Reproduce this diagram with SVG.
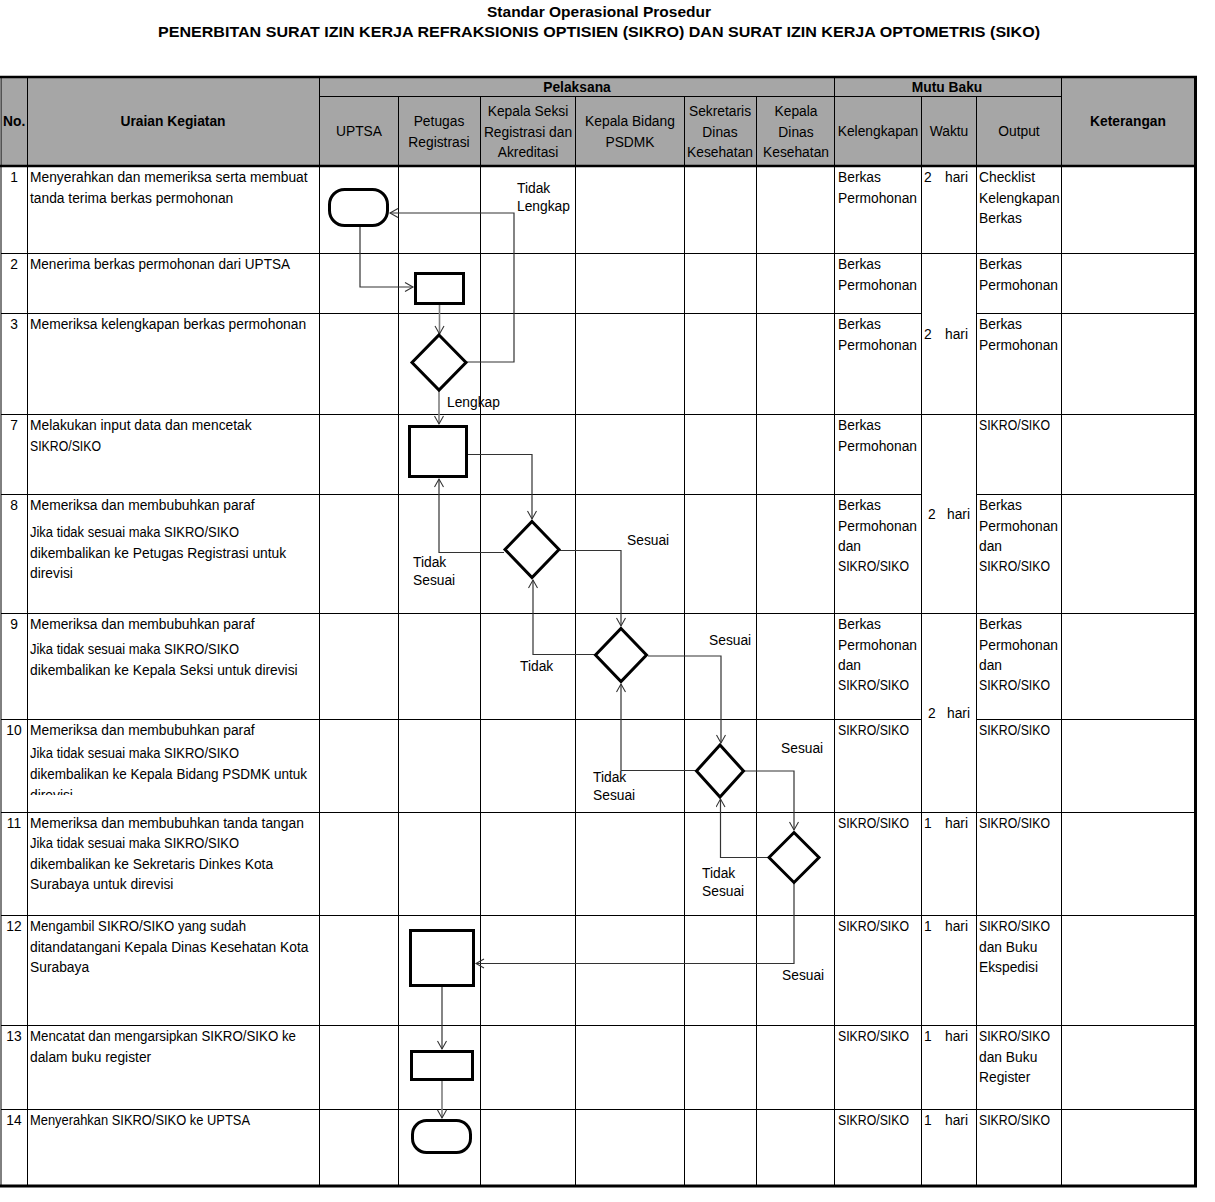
<svg xmlns="http://www.w3.org/2000/svg" width="1215" height="1202" viewBox="0 0 1215 1202">
<style>
.t{font-family:"Liberation Sans",Arial,sans-serif;font-size:13.8px;fill:#000}
.b{font-weight:bold}
.m{text-anchor:middle}
.h{font-family:"Liberation Sans",Arial,sans-serif;font-weight:bold;font-size:15.5px;text-anchor:middle;fill:#000}
.gl{stroke:#000;stroke-width:1;fill:none}
.gt{stroke:#000;stroke-width:2.5;fill:none}
.s{fill:#fff;stroke:#000;stroke-width:3}
.c{fill:none;stroke:#333;stroke-width:1.2;marker-end:url(#ar)}
.cg{fill:none;stroke:#7f7f7f;stroke-width:1.6;marker-end:url(#ar)}
</style>
<defs>
<marker id="ar" markerUnits="userSpaceOnUse" markerWidth="12" markerHeight="12" refX="9" refY="5" orient="auto">
<path d="M1,0.5 L9,5 L1,9.5" fill="none" stroke="#333" stroke-width="1.1"/>
</marker>
<clipPath id="r10"><rect x="28" y="720" width="290" height="75"/></clipPath>
</defs>
<rect width="1215" height="1202" fill="#fff"/>
<text class="h" x="599" y="17">Standar Operasional Prosedur</text>
<text class="h" x="599" y="37" textLength="882" lengthAdjust="spacingAndGlyphs">PENERBITAN SURAT IZIN KERJA REFRAKSIONIS OPTISIEN (SIKRO) DAN SURAT IZIN KERJA OPTOMETRIS (SIKO)</text>
<g id="table">
<rect x="1" y="77" width="1195" height="89" fill="#a6a6a6"/>
<g class="gl">
<path d="M319,96.5 H1061"/>
<path d="M27.5,77 V1186 M319.5,77 V1186 M834.5,77 V1186 M1061.5,77 V1186"/>
<path d="M398.5,96 V1186 M480.5,96 V1186 M575.5,96 V1186 M684.5,96 V1186 M756.5,96 V1186 M921.5,96 V1186 M976.5,96 V1186"/>
<path d="M1,253.5 H1196 M1,313.5 H921 M976,313.5 H1196 M1,414.5 H1196 M1,494.5 H921 M976,494.5 H1196 M1,613.5 H1196 M1,719.5 H921 M976,719.5 H1196 M1,812.5 H1196 M1,915.5 H1196 M1,1025.5 H1196 M1,1109.5 H1196"/>
<path d="M1,77 V1186"/>
</g>
<g class="gt">
<path d="M0,77 H1197 M0,166 H1197"/>
<path d="M0,1186 H1197" stroke-width="3"/>
<path d="M1195.5,76 V1187" stroke-width="3"/>
</g>
<text class="t b" x="3" y="126">No.</text>
<text class="t b m" x="173" y="126">Uraian Kegiatan</text>
<text class="t b m" x="577" y="92">Pelaksana</text>
<text class="t b m" x="947" y="92">Mutu Baku</text>
<text class="t b m" x="1128" y="126">Keterangan</text>
<text class="t m" x="359" y="136">UPTSA</text>
<text class="t m" x="439" y="126">Petugas</text>
<text class="t m" x="439" y="147">Registrasi</text>
<text class="t m" x="528" y="116">Kepala Seksi</text>
<text class="t m" x="528" y="137">Registrasi dan</text>
<text class="t m" x="528" y="157">Akreditasi</text>
<text class="t m" x="630" y="126">Kepala Bidang</text>
<text class="t m" x="630" y="147">PSDMK</text>
<text class="t m" x="720" y="116">Sekretaris</text>
<text class="t m" x="720" y="137">Dinas</text>
<text class="t m" x="720" y="157">Kesehatan</text>
<text class="t m" x="796" y="116">Kepala</text>
<text class="t m" x="796" y="137">Dinas</text>
<text class="t m" x="796" y="157">Kesehatan</text>
<text class="t m" x="878" y="136">Kelengkapan</text>
<text class="t m" x="949" y="136">Waktu</text>
<text class="t m" x="1019" y="136">Output</text>
</g>
<g id="rows">
<text class="t m" x="14" y="182">1</text>
<text class="t" x="30" y="182">Menyerahkan dan memeriksa serta membuat</text>
<text class="t" x="30" y="203">tanda terima berkas permohonan</text>
<text class="t m" x="14" y="269">2</text>
<text class="t" x="30" y="269" textLength="260" lengthAdjust="spacingAndGlyphs">Menerima berkas permohonan dari UPTSA</text>
<text class="t m" x="14" y="329">3</text>
<text class="t" x="30" y="329">Memeriksa kelengkapan berkas permohonan</text>
<text class="t m" x="14" y="430">7</text>
<text class="t" x="30" y="430">Melakukan input data dan mencetak</text>
<text class="t" x="30" y="451" textLength="71" lengthAdjust="spacingAndGlyphs">SIKRO/SIKO</text>
<text class="t m" x="14" y="510">8</text>
<text class="t" x="30" y="510">Memeriksa dan membubuhkan paraf</text>
<text class="t" x="30" y="537" textLength="209" lengthAdjust="spacingAndGlyphs">Jika tidak sesuai maka SIKRO/SIKO</text>
<text class="t" x="30" y="558">dikembalikan ke Petugas Registrasi untuk</text>
<text class="t" x="30" y="578">direvisi</text>
<text class="t m" x="14" y="629">9</text>
<text class="t" x="30" y="629">Memeriksa dan membubuhkan paraf</text>
<text class="t" x="30" y="654" textLength="209" lengthAdjust="spacingAndGlyphs">Jika tidak sesuai maka SIKRO/SIKO</text>
<text class="t" x="30" y="675">dikembalikan ke Kepala Seksi untuk direvisi</text>
<text class="t m" x="14" y="735">10</text>
<text class="t" x="30" y="735">Memeriksa dan membubuhkan paraf</text>
<text class="t" x="30" y="758" textLength="209" lengthAdjust="spacingAndGlyphs">Jika tidak sesuai maka SIKRO/SIKO</text>
<text class="t" x="30" y="779" textLength="277" lengthAdjust="spacingAndGlyphs">dikembalikan ke Kepala Bidang PSDMK untuk</text>
<text class="t" x="30" y="800" clip-path="url(#r10)">direvisi</text>
<text class="t m" x="14" y="828">11</text>
<text class="t" x="30" y="828">Memeriksa dan membubuhkan tanda tangan</text>
<text class="t" x="30" y="848" textLength="209" lengthAdjust="spacingAndGlyphs">Jika tidak sesuai maka SIKRO/SIKO</text>
<text class="t" x="30" y="869">dikembalikan ke Sekretaris Dinkes Kota</text>
<text class="t" x="30" y="889">Surabaya untuk direvisi</text>
<text class="t m" x="14" y="931">12</text>
<text class="t" x="30" y="931" textLength="216" lengthAdjust="spacingAndGlyphs">Mengambil SIKRO/SIKO yang sudah</text>
<text class="t" x="30" y="952">ditandatangani Kepala Dinas Kesehatan Kota</text>
<text class="t" x="30" y="972">Surabaya</text>
<text class="t m" x="14" y="1041">13</text>
<text class="t" x="30" y="1041" textLength="266" lengthAdjust="spacingAndGlyphs">Mencatat dan mengarsipkan SIKRO/SIKO ke</text>
<text class="t" x="30" y="1062">dalam buku register</text>
<text class="t m" x="14" y="1125">14</text>
<text class="t" x="30" y="1125" textLength="220" lengthAdjust="spacingAndGlyphs">Menyerahkan SIKRO/SIKO ke UPTSA</text>
</g>
<g id="kelengkapan">
<text class="t" x="838" y="182">Berkas</text><text class="t" x="838" y="203">Permohonan</text>
<text class="t" x="838" y="269">Berkas</text><text class="t" x="838" y="290">Permohonan</text>
<text class="t" x="838" y="329">Berkas</text><text class="t" x="838" y="350">Permohonan</text>
<text class="t" x="838" y="430">Berkas</text><text class="t" x="838" y="451">Permohonan</text>
<text class="t" x="838" y="510">Berkas</text><text class="t" x="838" y="531">Permohonan</text><text class="t" x="838" y="551">dan</text><text class="t" x="838" y="571" textLength="71" lengthAdjust="spacingAndGlyphs">SIKRO/SIKO</text>
<text class="t" x="838" y="629">Berkas</text><text class="t" x="838" y="650">Permohonan</text><text class="t" x="838" y="670">dan</text><text class="t" x="838" y="690" textLength="71" lengthAdjust="spacingAndGlyphs">SIKRO/SIKO</text>
<text class="t" x="838" y="735" textLength="71" lengthAdjust="spacingAndGlyphs">SIKRO/SIKO</text>
<text class="t" x="838" y="828" textLength="71" lengthAdjust="spacingAndGlyphs">SIKRO/SIKO</text>
<text class="t" x="838" y="931" textLength="71" lengthAdjust="spacingAndGlyphs">SIKRO/SIKO</text>
<text class="t" x="838" y="1041" textLength="71" lengthAdjust="spacingAndGlyphs">SIKRO/SIKO</text>
<text class="t" x="838" y="1125" textLength="71" lengthAdjust="spacingAndGlyphs">SIKRO/SIKO</text>
</g>
<g id="waktu">
<text class="t" x="924" y="182">2</text><text class="t" x="945" y="182">hari</text>
<text class="t" x="924" y="339">2</text><text class="t" x="945" y="339">hari</text>
<text class="t" x="928" y="519">2</text><text class="t" x="947" y="519">hari</text>
<text class="t" x="928" y="718">2</text><text class="t" x="947" y="718">hari</text>
<text class="t" x="924" y="828">1</text><text class="t" x="945" y="828">hari</text>
<text class="t" x="924" y="931">1</text><text class="t" x="945" y="931">hari</text>
<text class="t" x="924" y="1041">1</text><text class="t" x="945" y="1041">hari</text>
<text class="t" x="924" y="1125">1</text><text class="t" x="945" y="1125">hari</text>
</g>
<g id="output">
<text class="t" x="979" y="182">Checklist</text><text class="t" x="979" y="203">Kelengkapan</text><text class="t" x="979" y="223">Berkas</text>
<text class="t" x="979" y="269">Berkas</text><text class="t" x="979" y="290">Permohonan</text>
<text class="t" x="979" y="329">Berkas</text><text class="t" x="979" y="350">Permohonan</text>
<text class="t" x="979" y="430" textLength="71" lengthAdjust="spacingAndGlyphs">SIKRO/SIKO</text>
<text class="t" x="979" y="510">Berkas</text><text class="t" x="979" y="531">Permohonan</text><text class="t" x="979" y="551">dan</text><text class="t" x="979" y="571" textLength="71" lengthAdjust="spacingAndGlyphs">SIKRO/SIKO</text>
<text class="t" x="979" y="629">Berkas</text><text class="t" x="979" y="650">Permohonan</text><text class="t" x="979" y="670">dan</text><text class="t" x="979" y="690" textLength="71" lengthAdjust="spacingAndGlyphs">SIKRO/SIKO</text>
<text class="t" x="979" y="735" textLength="71" lengthAdjust="spacingAndGlyphs">SIKRO/SIKO</text>
<text class="t" x="979" y="828" textLength="71" lengthAdjust="spacingAndGlyphs">SIKRO/SIKO</text>
<text class="t" x="979" y="931" textLength="71" lengthAdjust="spacingAndGlyphs">SIKRO/SIKO</text><text class="t" x="979" y="952">dan Buku</text><text class="t" x="979" y="972">Ekspedisi</text>
<text class="t" x="979" y="1041" textLength="71" lengthAdjust="spacingAndGlyphs">SIKRO/SIKO</text><text class="t" x="979" y="1062">dan Buku</text><text class="t" x="979" y="1082">Register</text>
<text class="t" x="979" y="1125" textLength="71" lengthAdjust="spacingAndGlyphs">SIKRO/SIKO</text>
</g>
<g id="connectors">
<path class="c" d="M466,362 H514 V213 H390"/>
<path class="c" d="M360,227 V287 H413"/>
<path class="cg" d="M439.5,305 V334"/>
<path class="cg" d="M439,391 V424"/>
<path class="c" d="M468,454.5 H532 V519"/>
<path class="c" d="M504,552.5 H439 V479"/>
<path class="c" d="M560,550.5 H621 V626"/>
<path class="c" d="M595,654.5 H533 V580"/>
<path class="c" d="M648,656 H721 V743"/>
<path class="c" d="M696,770.5 H621 V684"/>
<path class="c" d="M744,771 H794 V830"/>
<path class="c" d="M768,857.5 H720.5 V799"/>
<path class="c" d="M794,883 V963.5 H476"/>
<path class="c" d="M442,987 V1049"/>
<path class="cg" d="M442,1081 V1118"/>
<text class="t" x="517" y="193">Tidak</text>
<text class="t" x="517" y="211">Lengkap</text>
<text class="t" x="447" y="407">Lengkap</text>
<text class="t" x="413" y="567">Tidak</text>
<text class="t" x="413" y="585">Sesuai</text>
<text class="t" x="627" y="545">Sesuai</text>
<text class="t" x="520" y="671">Tidak</text>
<text class="t" x="709" y="645">Sesuai</text>
<text class="t" x="593" y="782">Tidak</text>
<text class="t" x="593" y="800">Sesuai</text>
<text class="t" x="781" y="753">Sesuai</text>
<text class="t" x="702" y="878">Tidak</text>
<text class="t" x="702" y="896">Sesuai</text>
<text class="t" x="782" y="980">Sesuai</text>
</g>
<g id="n1"><rect class="s" x="329.5" y="189.5" width="58" height="36" rx="15"/></g>
<g id="n2"><rect class="s" x="415.5" y="273.5" width="48" height="30"/></g>
<g id="n3"><path class="s" d="M439,335 L466,362.5 L439,390 L412,362.5 Z"/></g>
<g id="n7"><rect class="s" x="409.5" y="426.5" width="57" height="50"/></g>
<g id="n8"><path class="s" d="M532,521.5 L559,549.5 L532,577.5 L505,549.5 Z"/></g>
<g id="n9"><path class="s" d="M621,628.5 L646.5,655 L621,681.5 L595.5,655 Z"/></g>
<g id="n10"><path class="s" d="M720,745 L743.5,771 L720,797 L696.5,771 Z"/></g>
<g id="n11"><path class="s" d="M794,832.5 L819,857.5 L794,882.5 L769,857.5 Z"/></g>
<g id="n12"><rect class="s" x="410.5" y="930.5" width="63" height="55"/></g>
<g id="n13"><rect class="s" x="411.5" y="1051.5" width="61" height="28"/></g>
<g id="n14"><rect class="s" x="412.5" y="1120.5" width="58" height="32" rx="14"/></g>
</svg>
